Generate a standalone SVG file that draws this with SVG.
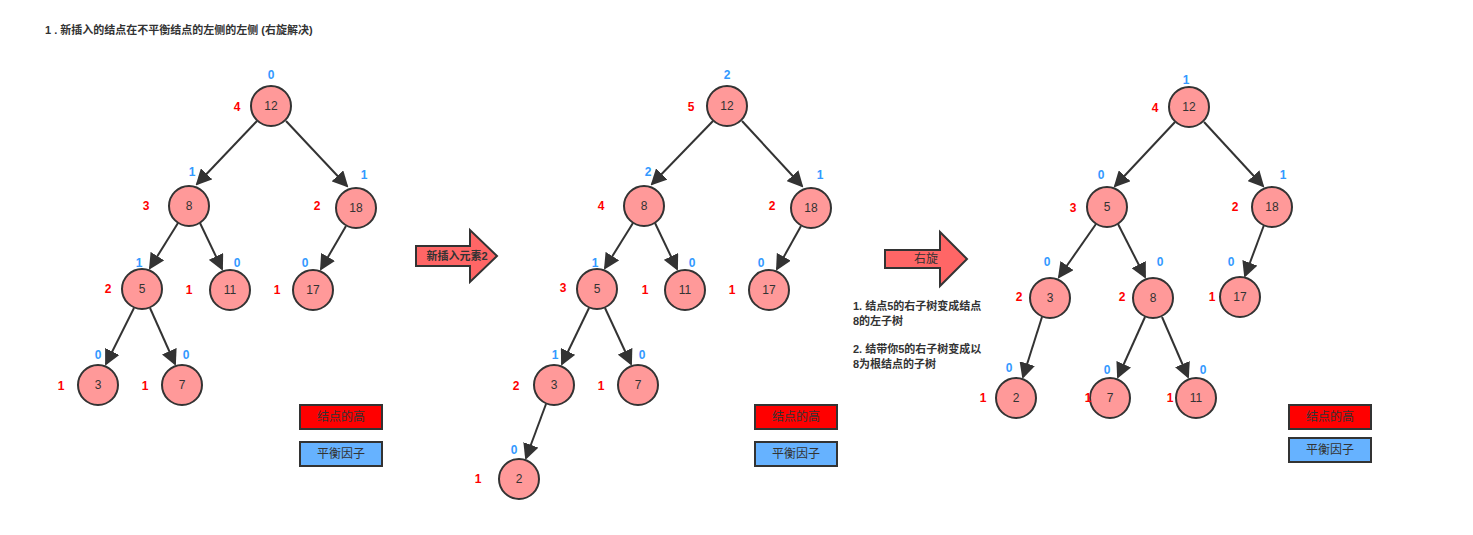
<svg xmlns="http://www.w3.org/2000/svg" width="1473" height="535" viewBox="0 0 1473 535">
<style>
text{font-family:"Liberation Sans","Noto Sans CJK SC",sans-serif;}
.n circle{fill:#FF9999;stroke:#333;stroke-width:2}
.n text{font-size:12px;fill:#333;text-anchor:middle;dominant-baseline:central}
.h{font-size:12px;font-weight:bold;fill:#FF0000;text-anchor:middle;dominant-baseline:central}
.b{font-size:12px;font-weight:bold;fill:#3399FF;text-anchor:middle;dominant-baseline:central}
.e line{stroke:#333;stroke-width:2;marker-end:url(#ah)}
.lg rect{stroke:#333;stroke-width:2}
.lg text{font-size:12px;fill:#333;text-anchor:middle;dominant-baseline:central}
.t{font-size:11px;font-weight:bold;fill:#333}
.ba{fill:#FF6666;stroke:#333;stroke-width:2}
</style>
<defs><marker id="ah" markerWidth="8" markerHeight="8" refX="7" refY="4" orient="auto" markerUnits="strokeWidth" viewBox="0 0 8 8"><path d="M0,0 L8,4 L0,8 Z" fill="#333"/></marker></defs>
<rect width="1473" height="535" fill="#fff"/>
<text class="t" x="45" y="34">1 . 新插入的结点在不平衡结点的左侧的左侧 (右旋解决)</text>
<g class="e">
<line x1="257" y1="121" x2="197" y2="184"/><line x1="286" y1="121" x2="347" y2="186"/>
<line x1="178" y1="223" x2="150" y2="268"/><line x1="200" y1="223" x2="222" y2="269"/>
<line x1="346" y1="226" x2="321" y2="269"/>
<line x1="134" y1="308" x2="106" y2="364"/><line x1="150" y1="308" x2="175" y2="364"/>
<line x1="713" y1="121" x2="652" y2="184"/><line x1="742" y1="121" x2="802" y2="186"/>
<line x1="633" y1="223" x2="605" y2="268"/><line x1="655" y1="223" x2="677" y2="269"/>
<line x1="801" y1="226" x2="777" y2="269"/>
<line x1="589" y1="308" x2="562" y2="364"/><line x1="605" y1="308" x2="631" y2="364"/>
<line x1="546" y1="404" x2="526" y2="458"/>
<line x1="1175" y1="122" x2="1115" y2="186"/><line x1="1204" y1="122" x2="1263" y2="186"/>
<line x1="1096" y1="224" x2="1059" y2="277"/><line x1="1118" y1="224" x2="1145" y2="277"/>
<line x1="1264" y1="225" x2="1245" y2="276"/>
<line x1="1042" y1="317" x2="1023" y2="377"/><line x1="1145" y1="317" x2="1118" y2="377"/><line x1="1162" y1="317" x2="1188" y2="377"/>
</g>
<g id="t1">
<g id="a12" class="n"><circle cx="271" cy="106" r="20"/><text x="271" y="106">12</text></g>
<g id="a8" class="n"><circle cx="189" cy="206" r="20"/><text x="189" y="206">8</text></g>
<g id="a18" class="n"><circle cx="356" cy="208" r="20"/><text x="356" y="208">18</text></g>
<g id="a5" class="n"><circle cx="142" cy="289" r="20"/><text x="142" y="289">5</text></g>
<g id="a11" class="n"><circle cx="230" cy="290" r="20"/><text x="230" y="290">11</text></g>
<g id="a17" class="n"><circle cx="313" cy="290" r="20"/><text x="313" y="290">17</text></g>
<g id="a3" class="n"><circle cx="98" cy="385" r="20"/><text x="98" y="385">3</text></g>
<g id="a7" class="n"><circle cx="182" cy="385" r="20"/><text x="182" y="385">7</text></g>
<text class="h" x="237" y="107">4</text><text class="h" x="146" y="206">3</text><text class="h" x="317" y="206">2</text><text class="h" x="108" y="289">2</text><text class="h" x="189" y="290">1</text><text class="h" x="277" y="290">1</text><text class="h" x="61" y="386">1</text><text class="h" x="145" y="386">1</text>
<text class="b" x="271" y="75">0</text><text class="b" x="192" y="172">1</text><text class="b" x="364" y="175">1</text><text class="b" x="139" y="263">1</text><text class="b" x="237" y="263">0</text><text class="b" x="305" y="263">0</text><text class="b" x="98" y="355">0</text><text class="b" x="186" y="355">0</text>
</g>
<g id="t2">
<g id="b12" class="n"><circle cx="727" cy="106" r="20"/><text x="727" y="106">12</text></g>
<g id="b8" class="n"><circle cx="644" cy="206" r="20"/><text x="644" y="206">8</text></g>
<g id="b18" class="n"><circle cx="811" cy="208" r="20"/><text x="811" y="208">18</text></g>
<g id="b5" class="n"><circle cx="597" cy="289" r="20"/><text x="597" y="289">5</text></g>
<g id="b11" class="n"><circle cx="685" cy="290" r="20"/><text x="685" y="290">11</text></g>
<g id="b17" class="n"><circle cx="769" cy="290" r="20"/><text x="769" y="290">17</text></g>
<g id="b3" class="n"><circle cx="554" cy="385" r="20"/><text x="554" y="385">3</text></g>
<g id="b7" class="n"><circle cx="638" cy="385" r="20"/><text x="638" y="385">7</text></g>
<g id="b2" class="n"><circle cx="519" cy="479" r="20"/><text x="519" y="479">2</text></g>
<text class="h" x="691" y="107">5</text><text class="h" x="601" y="206">4</text><text class="h" x="772" y="206">2</text><text class="h" x="563" y="288">3</text><text class="h" x="645" y="290">1</text><text class="h" x="732" y="290">1</text><text class="h" x="516" y="386">2</text><text class="h" x="601" y="386">1</text><text class="h" x="478" y="479">1</text>
<text class="b" x="727" y="75">2</text><text class="b" x="648" y="172">2</text><text class="b" x="820" y="175">1</text><text class="b" x="595" y="263">1</text><text class="b" x="692" y="263">0</text><text class="b" x="761" y="263">0</text><text class="b" x="555" y="355">1</text><text class="b" x="642" y="355">0</text><text class="b" x="514" y="450">0</text>
</g>
<g id="t3">
<g id="c12" class="n"><circle cx="1189" cy="107" r="20"/><text x="1189" y="107">12</text></g>
<g id="c5" class="n"><circle cx="1107" cy="207" r="20"/><text x="1107" y="207">5</text></g>
<g id="c18" class="n"><circle cx="1272" cy="207" r="20"/><text x="1272" y="207">18</text></g>
<g id="c3" class="n"><circle cx="1050" cy="298" r="20"/><text x="1050" y="298">3</text></g>
<g id="c8" class="n"><circle cx="1153" cy="298" r="20"/><text x="1153" y="298">8</text></g>
<g id="c17" class="n"><circle cx="1240" cy="297" r="20"/><text x="1240" y="297">17</text></g>
<g id="c2" class="n"><circle cx="1016" cy="398" r="20"/><text x="1016" y="398">2</text></g>
<g id="c7" class="n"><circle cx="1110" cy="398" r="20"/><text x="1110" y="398">7</text></g>
<g id="c11" class="n"><circle cx="1196" cy="398" r="20"/><text x="1196" y="398">11</text></g>
<text class="h" x="1155" y="108">4</text><text class="h" x="1073" y="208">3</text><text class="h" x="1235" y="207">2</text><text class="h" x="1019" y="297">2</text><text class="h" x="1122" y="297">2</text><text class="h" x="1212" y="297">1</text><text class="h" x="983" y="398">1</text><text class="h" x="1088" y="398">1</text><text class="h" x="1170" y="398">1</text>
<text class="b" x="1186" y="80">1</text><text class="b" x="1101" y="175">0</text><text class="b" x="1283" y="175">1</text><text class="b" x="1047" y="262">0</text><text class="b" x="1160" y="262">0</text><text class="b" x="1231" y="262">0</text><text class="b" x="1009" y="368">0</text><text class="b" x="1107" y="370">0</text><text class="b" x="1203" y="370">0</text>
</g>
<g id="arrow1"><path class="ba" d="M416,246 H470 V230 L497,256 L470,282 V266 H416 Z"/><text class="t" x="457" y="260" text-anchor="middle">新插入元素2</text></g>
<g id="arrow2"><path class="ba" d="M885,250 H940 V232 L967,259 L940,286 V268 H885 Z"/><text x="926" y="263" text-anchor="middle" style="font-size:12px;fill:#333">右旋</text></g>
<g id="note"><text class="t" x="853" y="310">1. 结点5的右子树变成结点</text><text class="t" x="853" y="325">8的左子树</text><text class="t" x="853" y="353">2. 结带你5的右子树变成以</text><text class="t" x="853" y="368">8为根结点的子树</text></g>
<g id="lg1" class="lg"><rect x="300" y="405" width="82" height="24" fill="#FF0000"/><text x="341" y="417">结点的高</text><rect x="300" y="442" width="82" height="24" fill="#66B2FF"/><text x="341" y="454">平衡因子</text></g>
<g id="lg2" class="lg"><rect x="755" y="405" width="82" height="24" fill="#FF0000"/><text x="796" y="417">结点的高</text><rect x="755" y="442" width="82" height="24" fill="#66B2FF"/><text x="796" y="454">平衡因子</text></g>
<g id="lg3" class="lg"><rect x="1289" y="405" width="82" height="24" fill="#FF0000"/><text x="1330" y="417">结点的高</text><rect x="1289" y="438" width="82" height="24" fill="#66B2FF"/><text x="1330" y="450">平衡因子</text></g>
</svg>
